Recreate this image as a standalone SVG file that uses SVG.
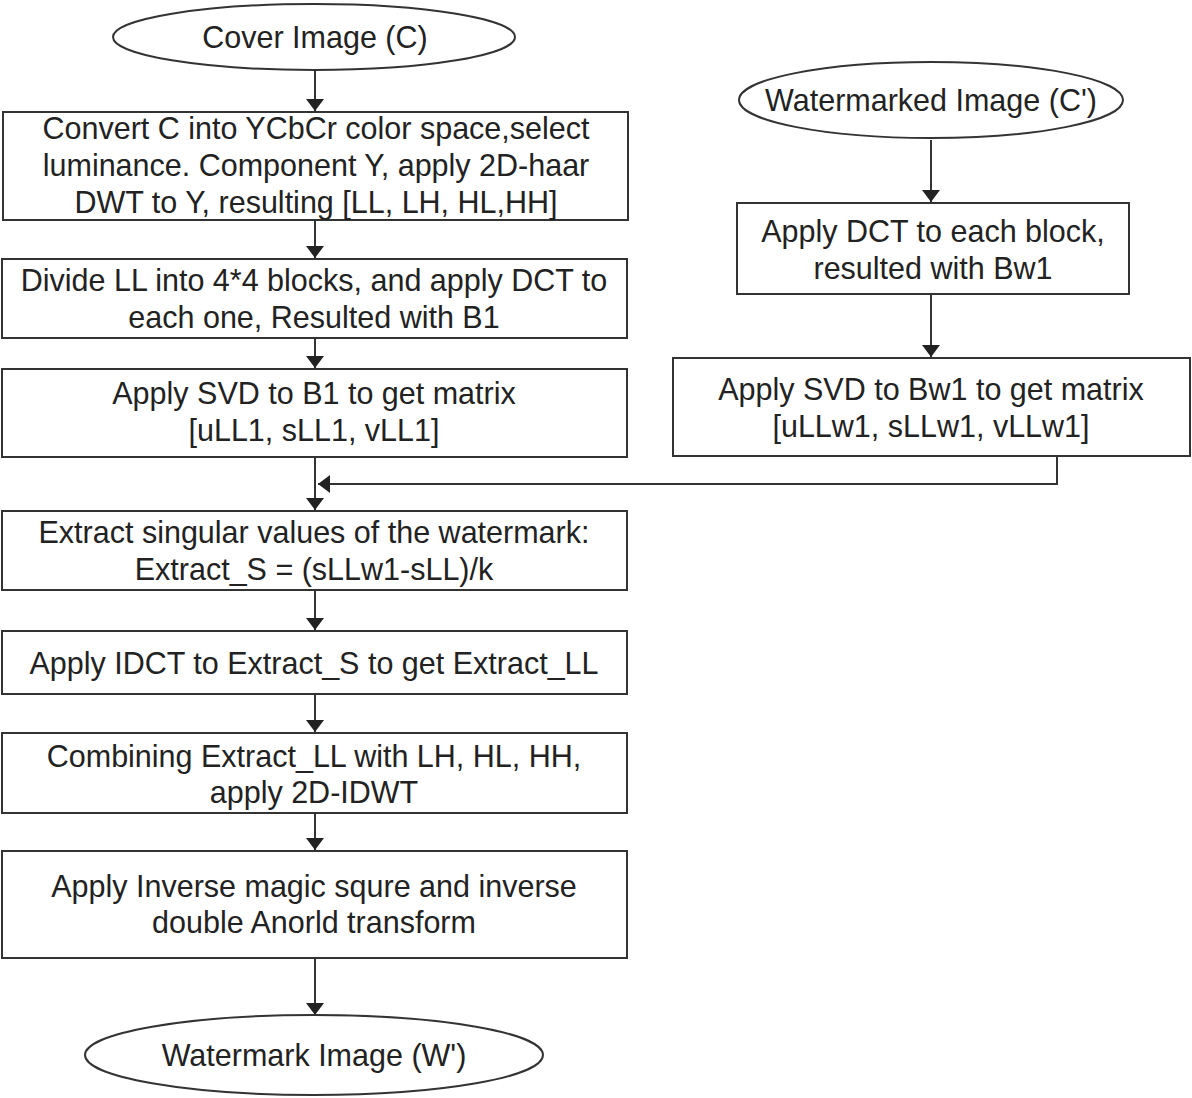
<svg xmlns="http://www.w3.org/2000/svg" width="1192" height="1098" viewBox="0 0 1192 1098">
<style>
.n{fill:#fff;stroke:#333;stroke-width:2}
.t{font-family:"Liberation Sans",Arial,sans-serif;font-size:30.5px;fill:#222;text-anchor:middle}
.c{fill:none;stroke:#333;stroke-width:2}
</style>
<defs>
<marker id="ah" viewBox="0 0 12 18" refX="12" refY="9" markerWidth="12" markerHeight="18" markerUnits="userSpaceOnUse" orient="auto">
<path d="M0,0 L12,9 L0,18 Z" fill="#222"/>
</marker>
</defs>
<rect width="1192" height="1098" fill="#fff"/>
<g id="connectors">
<line class="c" x1="315" y1="70" x2="315" y2="111" marker-end="url(#ah)"/>
<line class="c" x1="315" y1="220" x2="315" y2="258" marker-end="url(#ah)"/>
<line class="c" x1="315" y1="338" x2="315" y2="368" marker-end="url(#ah)"/>
<line class="c" x1="315" y1="457" x2="315" y2="510" marker-end="url(#ah)"/>
<polyline class="c" points="1057,456 1057,484 318,484" marker-end="url(#ah)"/>
<line class="c" x1="315" y1="590" x2="315" y2="630" marker-end="url(#ah)"/>
<line class="c" x1="315" y1="694" x2="315" y2="732" marker-end="url(#ah)"/>
<line class="c" x1="315" y1="813" x2="315" y2="850" marker-end="url(#ah)"/>
<line class="c" x1="315" y1="958" x2="315" y2="1015" marker-end="url(#ah)"/>
<line class="c" x1="931" y1="140" x2="931" y2="202" marker-end="url(#ah)"/>
<line class="c" x1="931" y1="294" x2="931" y2="357" marker-end="url(#ah)"/>
</g>
<g id="cover">
<ellipse class="n" cx="314" cy="37" rx="201" ry="33"/>
<text class="t" x="315" y="48">Cover Image (C)</text>
</g>
<g id="convert">
<rect class="n" x="3" y="112" width="625" height="108"/>
<text class="t" x="316" y="139">Convert C into YCbCr color space,select</text>
<text class="t" x="316" y="176">luminance. Component Y, apply 2D-haar</text>
<text class="t" x="316" y="213">DWT to Y, resulting [LL, LH, HL,HH]</text>
</g>
<g id="divide">
<rect class="n" x="2" y="259" width="625" height="79"/>
<text class="t" x="314" y="291">Divide LL into 4*4 blocks, and apply DCT to</text>
<text class="t" x="314" y="328">each one, Resulted with B1</text>
</g>
<g id="svd1">
<rect class="n" x="2" y="369" width="625" height="88"/>
<text class="t" x="314" y="404">Apply SVD to B1 to get matrix</text>
<text class="t" x="314" y="441">[uLL1, sLL1, vLL1]</text>
</g>
<g id="extract">
<rect class="n" x="2" y="511" width="625" height="79"/>
<text class="t" x="314" y="543">Extract singular values of the watermark:</text>
<text class="t" x="314" y="580">Extract_S = (sLLw1-sLL)/k</text>
</g>
<g id="idct">
<rect class="n" x="2" y="631" width="625" height="63"/>
<text class="t" x="314" y="674">Apply IDCT to Extract_S to get Extract_LL</text>
</g>
<g id="combine">
<rect class="n" x="2" y="733" width="625" height="80"/>
<text class="t" x="314" y="767">Combining Extract_LL with LH, HL, HH,</text>
<text class="t" x="314" y="803">apply 2D-IDWT</text>
</g>
<g id="inverse">
<rect class="n" x="2" y="851" width="625" height="107"/>
<text class="t" x="314" y="897">Apply Inverse magic squre and inverse</text>
<text class="t" x="314" y="933">double Anorld transform</text>
</g>
<g id="watermark">
<ellipse class="n" cx="314" cy="1055" rx="229" ry="40"/>
<text class="t" x="314" y="1066">Watermark Image (W')</text>
</g>
<g id="watermarked">
<ellipse class="n" cx="931" cy="100" rx="192" ry="38"/>
<text class="t" x="931" y="111">Watermarked Image (C')</text>
</g>
<g id="dct">
<rect class="n" x="737" y="203" width="392" height="91"/>
<text class="t" x="933" y="242">Apply DCT to each block,</text>
<text class="t" x="933" y="279">resulted with Bw1</text>
</g>
<g id="svd2">
<rect class="n" x="673" y="358" width="517" height="98"/>
<text class="t" x="931" y="400">Apply SVD to Bw1 to get matrix</text>
<text class="t" x="931" y="437">[uLLw1, sLLw1, vLLw1]</text>
</g>
</svg>
